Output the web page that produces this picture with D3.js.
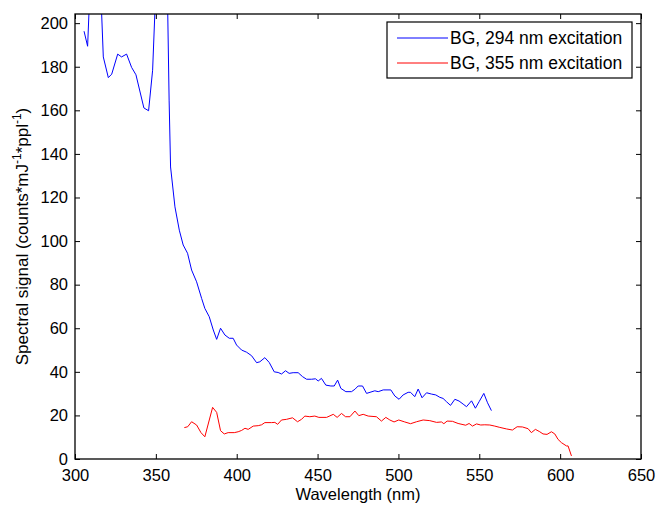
<!DOCTYPE html>
<html><head><meta charset="utf-8">
<script src="https://cdn.jsdelivr.net/npm/d3@7"></script>
<style>body{margin:0;background:#fff}svg{display:block;font-family:Arial,"Liberation Sans",sans-serif}</style>
</head><body><svg id="c" width="656" height="505"></svg>
<script>
const xTicks = [300,350,400,450,500,550,600,650];
const yTicks = [0,20,40,60,80,100,120,140,160,180,200];
const seriesNames = ["BG, 294 nm excitation","BG, 355 nm excitation"];
const seriesColors = ["#0000ff","#ff0000"];
const blueX = [305.6,307.8,310.3,312.5,315,317.5,320.6,322.7,326.4,328.8,331.9,335,337.7,342.6,345.5,348,350.5,353,355.5,358.2,359.1,361.8,364.5,366.9,369.6,372.1,375.2,378.3,380.3,383,385.5,387.6,390,392.7,395.4,397.8,399.9,403,406.1,409.2,412.3,414.3,417.4,420.1,423.2,425.6,427.7,430.2,432.4,434.9,438,440.7,443.2,446.3,448.7,450.4,452.4,455.1,458.2,460.3,462.4,464.4,467.5,471,473.1,475.1,477.8,480.3,485.4,487.5,490.6,495.3,497.8,500.4,502.9,506,507.5,510.1,512.2,514.6,517.4,520.4,523.1,525.6,527.6,529.7,532.2,534.9,537.5,540,542.1,545.2,547.6,549.9,552.8,555.1,557.5];
const blueY = [196.3,189.4,235,240,233,184.5,175,176.6,185.8,184.5,185.8,179.7,176.3,161.1,159.8,178.4,226,280,292,164.7,134,115.7,105,98.2,94.4,86.7,81.3,73.7,69.1,65.3,59.2,54.9,60,56.9,55.4,55.4,52.3,50,49,47.4,44.2,44.6,46.5,44.3,40,39.7,39,40.5,39.3,39.6,39.6,37.8,36.6,36.6,36.8,35.8,37,33.9,33.5,33.5,36.2,32.4,30.9,30.9,32,33.5,33.5,30.1,31.3,30.9,31.7,31.7,28.9,27.4,29.4,30.6,30.6,28.6,32.1,28.1,30.4,29.8,29.4,28.3,27.8,26.3,24.6,27.4,26.6,25.2,24,26.7,23.3,26.3,30.1,25.8,22.2];
const redX = [367.6,369.7,372.1,375.2,377.9,380.3,385.1,387.6,390,392.3,394.7,398.5,400.9,403,405.1,407.1,410.2,413.3,415.4,417.4,421.6,423.6,425.3,427.7,430.8,434.5,437.6,440.1,442.1,445.2,448.3,450.8,455.6,459.7,462.1,464.8,467.3,470,473.1,475.5,478.2,481.3,486.4,489.5,492.2,494.7,497.3,500.2,503.9,507.5,511.2,515.3,519.4,523.6,526.6,528.1,530.1,533.4,536.9,541.6,543.7,545.8,548.3,550.9,553.4,556.5,559.6,562.7,566.8,570.5,573.4,576.7,580.2,582.2,584.7,587.4,589.4,591.9,594.6,596.7,598.7,600.8,603.9,604.9,607];
const redY = [14.4,14.8,17.1,15.6,12.1,10.2,23.7,21.4,13,11.5,12.1,12.1,12.5,13.1,14.1,13.6,15.1,15.3,15.7,16.7,16.7,16.8,15.9,17.9,18.2,18.9,17.1,18.2,19.7,19.4,19.7,19.1,19.1,20.5,19.1,20.9,19.4,19.4,22,19.9,20.5,19.7,19.4,17.4,19.1,17.9,17,17.9,17,16.2,17.1,17.9,17.6,16.8,17,16.2,17.4,17.3,16.3,15.5,16.3,15.1,16.1,15.6,15.7,15.6,15.1,14.5,13.8,13.3,14.8,14.7,13.9,12.1,13.6,12.5,11.5,11.3,12.5,11.5,9,7.5,6,6,1.4];

const L=75,R=641,T=14,B=459;
const svg=d3.select("#c");
const x=d3.scaleLinear().domain([300,650]).range([L,R]);
const y=d3.scaleLinear().domain([0,204.2]).range([B,T]);

svg.append("defs").append("clipPath").attr("id","clip").append("rect")
  .attr("x",L).attr("y",T).attr("width",R-L).attr("height",B-T);

const line=d3.line().x(d=>x(d[0])).y(d=>y(d[1]));
const series=[d3.zip(blueX,blueY),d3.zip(redX,redY)];
series.forEach((s,i)=>{
  svg.append("path").datum(s).attr("d",line).attr("fill","none")
    .attr("stroke",seriesColors[i]).attr("stroke-width",1).attr("clip-path","url(#clip)");
});

const tl=5;
const gB=svg.append("g").attr("transform",`translate(0,${B})`)
  .call(d3.axisBottom(x).tickValues(xTicks).tickSize(-tl).tickPadding(10).tickFormat(d3.format("d")));
const gT=svg.append("g").attr("transform",`translate(0,${T})`)
  .call(d3.axisTop(x).tickValues(xTicks).tickSize(-tl).tickFormat(""));
const gL=svg.append("g").attr("transform",`translate(${L},0)`)
  .call(d3.axisLeft(y).tickValues(yTicks).tickSize(-tl).tickPadding(7).tickFormat(d3.format("d")));
const gR=svg.append("g").attr("transform",`translate(${R},0)`)
  .call(d3.axisRight(y).tickValues(yTicks).tickSize(-tl).tickFormat(""));
[gB,gT,gL,gR].forEach(g=>{
  g.select(".domain").remove();
  g.selectAll("line").attr("stroke","#000");
  g.selectAll("text").attr("font-size",16.5).attr("fill","#000").attr("font-family","Arial, Liberation Sans, sans-serif");
});
svg.append("rect").attr("x",L).attr("y",T).attr("width",R-L).attr("height",B-T)
  .attr("fill","none").attr("stroke","#000").attr("stroke-width",1.3);

svg.append("text").attr("x",(L+R)/2).attr("y",500).attr("text-anchor","middle")
  .attr("font-size",16.5).text("Wavelength (nm)");
const yl=svg.append("text").attr("transform",`translate(28,${(T+B)/2}) rotate(-90)`)
  .attr("text-anchor","middle").attr("font-size",17);
yl.append("tspan").text("Spectral signal (counts*mJ");
yl.append("tspan").attr("dy",-7).attr("font-size",12).text("-1");
yl.append("tspan").attr("dy",7).text("*ppl");
yl.append("tspan").attr("dy",-7).attr("font-size",12).text("-1");
yl.append("tspan").attr("dy",7).text(")");

const lg=svg.append("g");
lg.append("rect").attr("x",387).attr("y",22).attr("width",245).attr("height",56)
  .attr("fill","#fff").attr("stroke","#000").attr("stroke-width",1.2);
seriesNames.forEach((n,i)=>{
  const yy=38+i*25;
  lg.append("line").attr("x1",397).attr("x2",448).attr("y1",yy).attr("y2",yy)
    .attr("stroke",seriesColors[i]).attr("stroke-width",1);
  lg.append("text").attr("x",450).attr("y",yy+6).attr("font-size",17.5).text(n);
});
</script></body></html>
